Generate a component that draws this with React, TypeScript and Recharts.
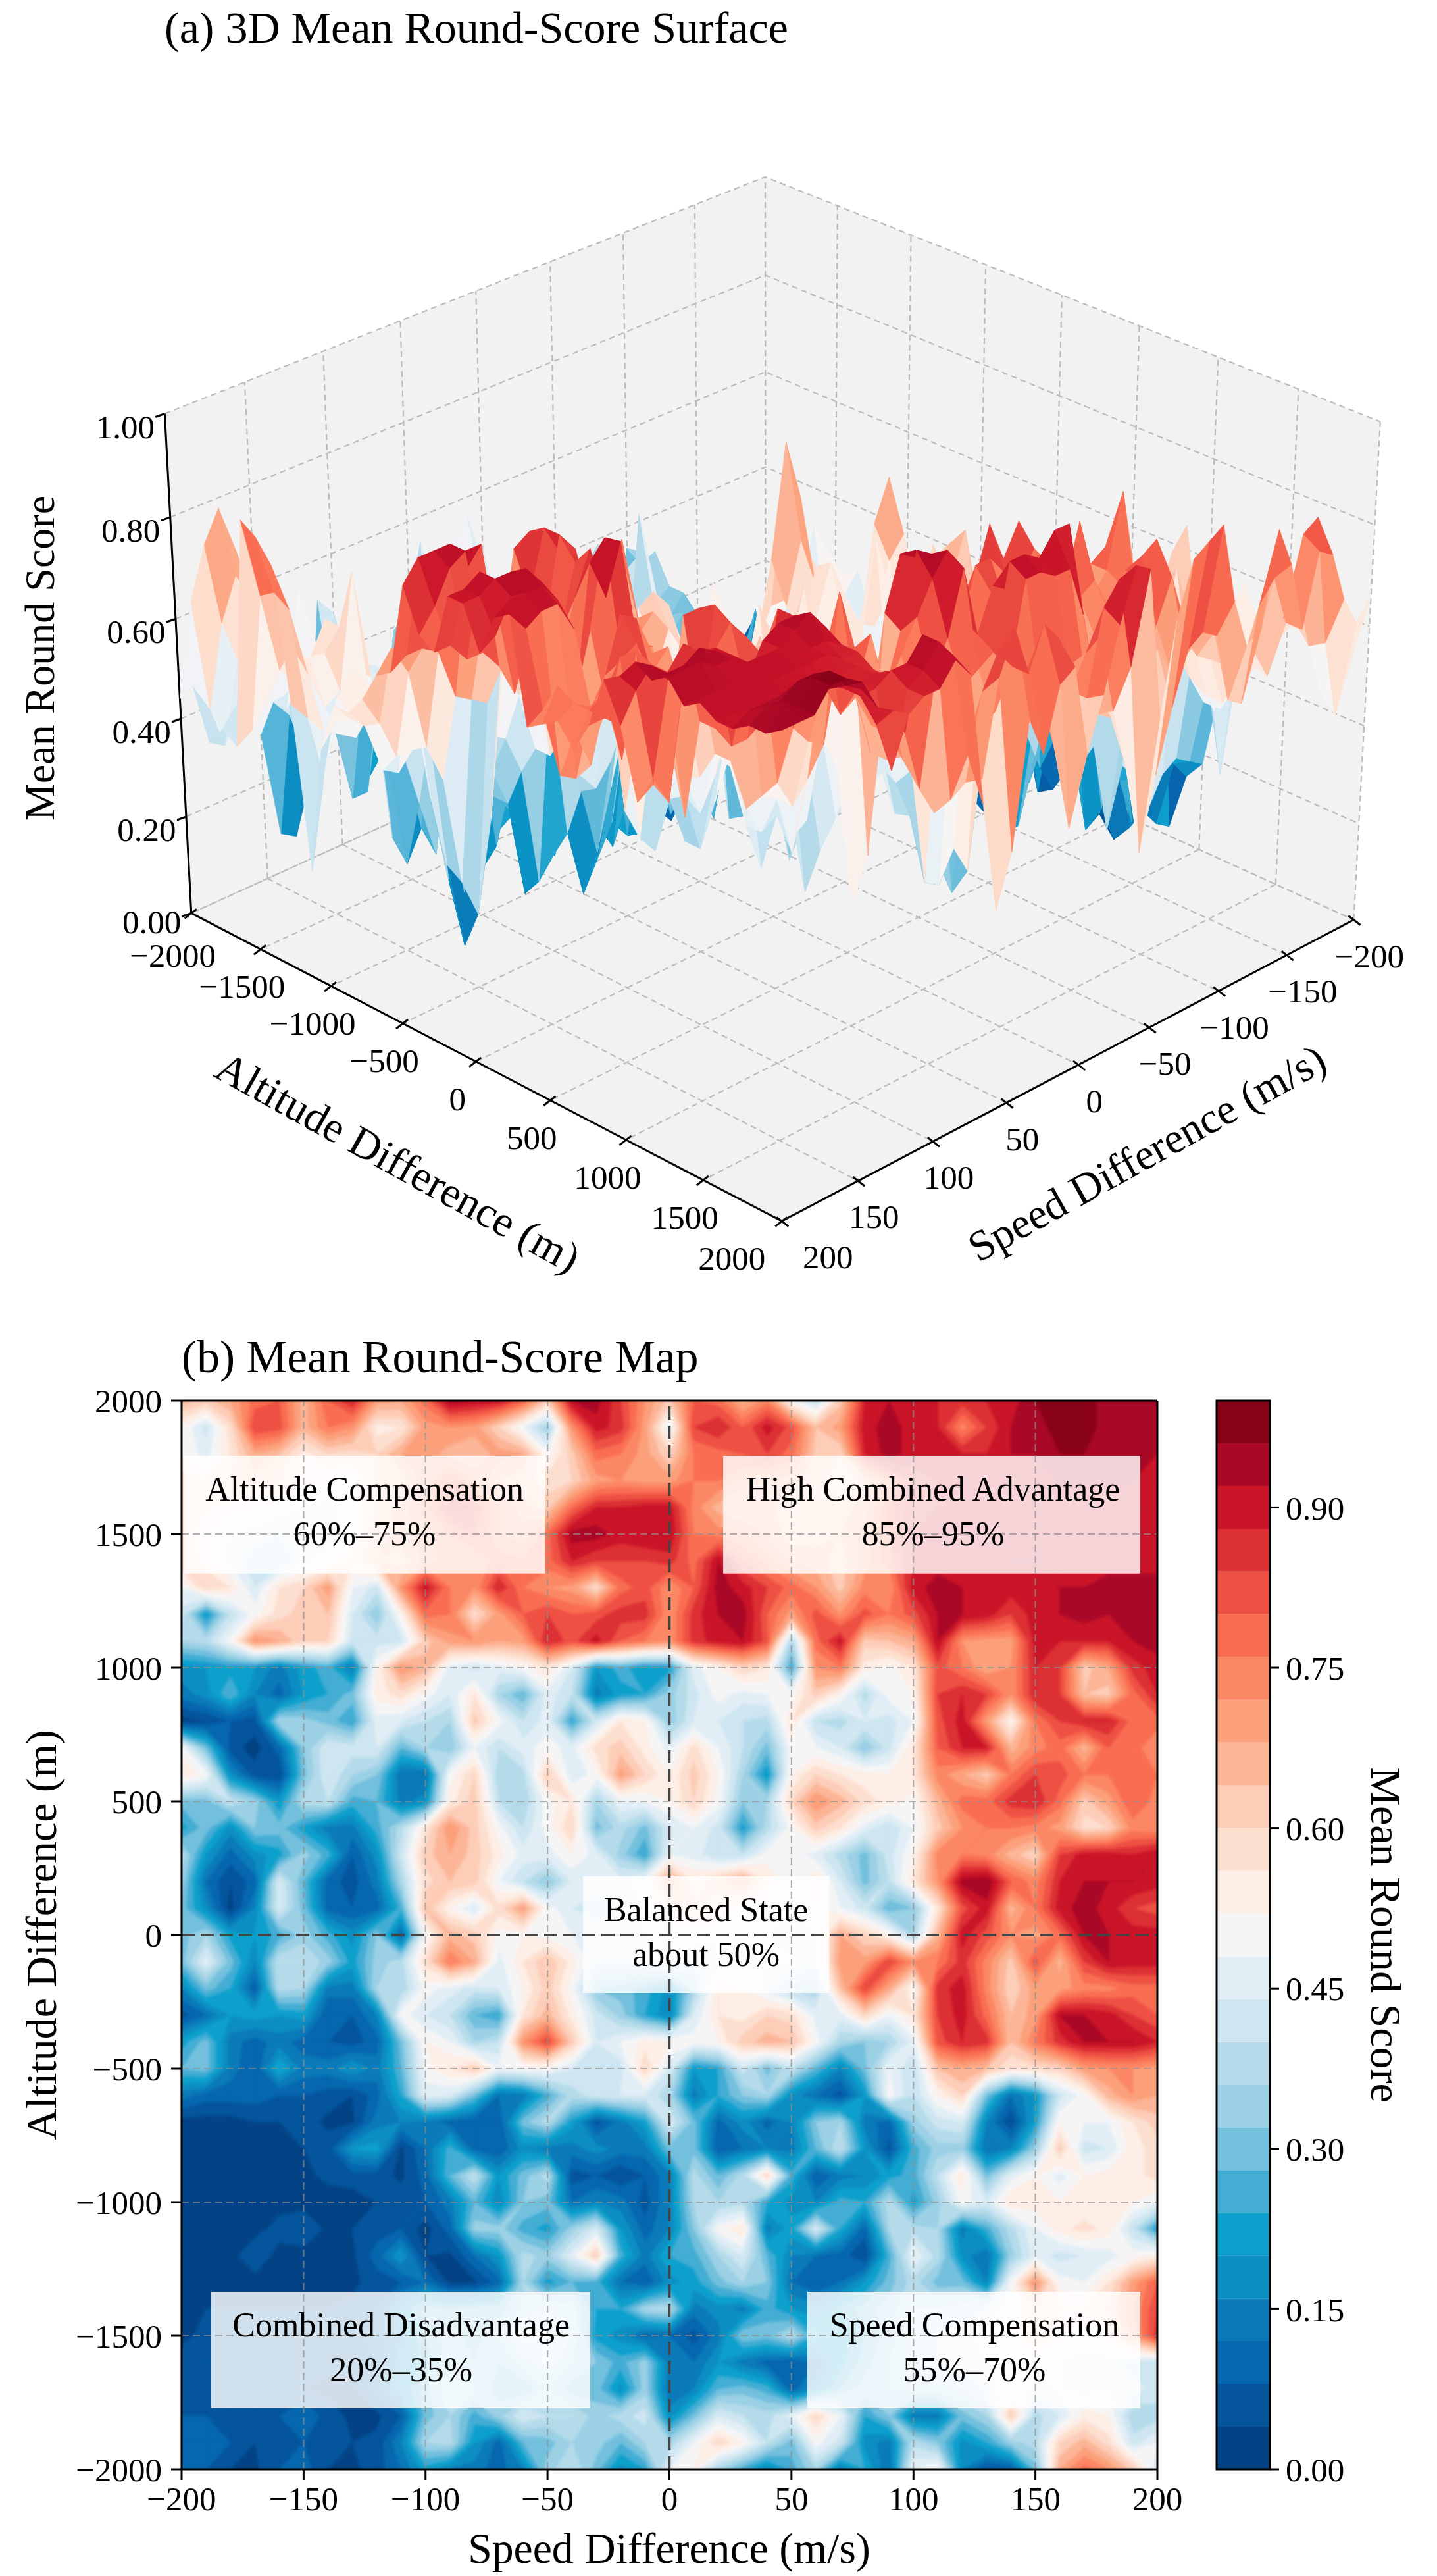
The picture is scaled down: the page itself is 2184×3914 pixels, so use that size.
import React from 'react';
import {
  ScatterChart, Scatter, BarChart, Bar, XAxis, YAxis, ReferenceLine, ReferenceArea,
} from 'recharts';

const PAGE_W = 2184;
const PAGE_H = 3914;
const SERIF = '"Liberation Serif", "Times New Roman", serif';

// axis ticks
const speedTicks = [-200, -150, -100, -50, 0, 50, 100, 150, 200];
const altitudeTicks = [-2000, -1500, -1000, -500, 0, 500, 1000, 1500, 2000];
const surfaceScoreTicks = [0, 0.2, 0.4, 0.6, 0.8, 1];
const colorbarTicks = [0, 0.15, 0.3, 0.45, 0.6, 0.75, 0.9];

// sampling of the score table
const speedGrid = [-200, -190, -180, -170, -160, -150, -140, -130, -120, -110, -100, -90, -80, -70, -60, -50, -40, -30, -20, -10, 0, 10, 20, 30, 40, 50, 60, 70, 80, 90, 100, 110, 120, 130, 140, 150, 160, 170, 180, 190, 200];
const altitudeGrid = [2000, 1900, 1800, 1700, 1600, 1500, 1400, 1300, 1200, 1100, 1000, 900, 800, 700, 600, 500, 400, 300, 200, 100, 0, -100, -200, -300, -400, -500, -600, -700, -800, -900, -1000, -1100, -1200, -1300, -1400, -1500, -1600, -1700, -1800, -1900, -2000];

// mean round score in percent, top row is altitude +2000, left column is speed -200
const scoreRows = [
  [66,62,68,78,80,66,80,88,70,68,78,94,92,90,80,62,92,94,84,72,62,80,78,66,74,50,40,62,88,92,88,88,86,88,90,96,98,98,94,94,94],
  [52,42,58,84,82,66,76,72,54,56,70,72,70,60,48,34,72,90,86,70,46,84,88,80,90,82,64,70,90,94,90,88,74,84,92,94,98,98,94,96,92],
  [52,46,56,68,64,54,60,58,60,68,70,66,64,70,68,50,62,78,76,70,60,76,78,80,84,78,62,60,88,94,90,90,88,88,92,92,96,96,94,94,92],
  [58,56,60,62,60,55,52,50,60,62,70,80,72,64,62,58,60,70,72,70,70,76,76,70,68,66,62,56,62,74,86,88,88,88,90,90,92,92,92,92,90],
  [60,56,54,52,50,48,46,50,60,66,74,86,84,72,66,62,78,88,88,90,90,74,66,64,66,60,60,62,66,80,86,88,88,88,90,90,90,90,90,90,90],
  [58,52,48,46,44,44,46,52,62,66,70,76,80,72,70,78,94,94,90,92,92,76,74,72,68,62,62,64,70,80,88,88,90,90,90,90,92,92,92,92,92],
  [60,54,46,42,40,46,50,56,64,62,70,74,72,78,76,78,88,84,84,84,86,78,92,80,74,68,66,62,70,78,88,90,90,90,92,92,90,90,90,90,90],
  [48,60,56,44,56,60,70,48,42,72,90,76,72,88,76,72,70,58,78,82,72,80,94,90,84,78,72,62,74,72,90,94,92,90,90,90,92,92,94,94,94],
  [42,20,40,50,58,62,64,44,32,52,78,76,58,70,80,84,80,82,86,86,72,86,92,94,80,70,82,72,82,76,82,92,92,90,84,90,92,94,92,92,92],
  [36,38,50,72,68,60,60,42,42,42,62,70,72,68,70,88,82,90,80,76,72,86,90,92,82,36,78,90,62,64,68,92,72,70,70,90,88,88,88,92,94],
  [18,20,22,20,14,22,26,14,52,72,66,46,42,46,50,56,44,20,26,20,22,46,52,60,56,24,72,76,54,50,56,82,76,68,72,88,84,62,68,86,90],
  [14,18,28,16,10,20,24,30,54,58,50,44,56,36,28,46,40,14,22,24,34,42,50,46,48,50,62,52,38,50,52,84,88,84,72,88,84,64,62,78,88],
  [2,4,8,6,36,34,30,24,46,44,40,36,62,50,40,46,24,42,56,52,33,44,44,40,38,56,40,38,44,42,48,82,90,70,52,76,84,88,88,78,78],
  [50,30,6,2,10,32,44,42,44,28,36,32,48,40,46,50,46,58,62,54,46,58,48,40,30,50,48,44,32,42,56,80,88,88,66,74,78,66,80,78,72],
  [56,50,18,6,4,30,44,36,32,12,12,50,60,36,38,62,44,50,70,60,52,62,52,36,20,52,60,56,54,52,56,74,68,62,76,84,82,76,76,78,76],
  [30,30,40,34,20,38,40,26,28,14,18,54,62,40,36,50,56,36,48,48,52,60,50,32,36,60,72,66,58,54,50,66,78,78,86,88,78,62,70,80,74],
  [22,30,18,32,30,22,14,14,26,38,56,72,62,50,40,50,60,30,38,30,44,48,42,22,38,50,62,56,46,40,48,62,72,76,76,74,70,58,60,74,72],
  [38,20,10,18,22,34,26,8,18,42,62,68,62,54,46,46,52,46,34,24,48,46,40,40,50,50,46,38,30,42,52,74,76,74,66,60,84,90,90,88,92],
  [34,12,4,10,44,28,10,6,14,36,58,64,62,48,40,32,44,46,46,50,70,56,62,70,56,48,56,44,30,40,56,72,94,96,80,74,88,92,92,92,90],
  [30,18,2,16,44,30,10,8,10,26,64,52,44,58,70,50,44,42,44,48,56,60,56,52,50,48,52,48,42,28,32,56,82,90,66,76,90,94,90,84,82],
  [30,36,22,20,26,34,26,18,32,10,50,66,62,50,52,50,48,46,46,48,50,50,50,48,48,46,48,68,60,52,36,66,90,82,72,70,78,92,92,90,90],
  [30,46,30,16,40,40,34,22,34,38,58,76,68,46,56,64,54,44,44,46,50,44,44,46,48,48,46,70,70,84,72,76,86,74,62,82,66,84,92,90,90],
  [16,30,24,8,38,36,14,14,36,36,50,46,42,44,52,62,50,32,30,26,18,36,56,52,46,38,36,64,84,68,50,86,90,74,60,70,70,74,74,78,78],
  [6,12,20,22,20,22,8,8,16,50,44,40,28,24,56,66,54,42,34,24,16,44,56,54,60,58,46,46,60,48,56,84,90,78,64,70,92,92,90,84,80],
  [22,30,14,10,14,10,8,6,10,30,52,48,36,40,72,84,62,44,48,54,52,50,52,62,66,64,50,36,32,36,46,82,88,86,64,76,86,92,92,92,88],
  [28,30,14,8,24,14,14,20,14,28,50,56,62,48,50,50,44,42,42,60,44,20,24,42,30,40,28,16,30,48,40,64,68,64,56,58,60,70,72,72,70],
  [14,10,10,10,8,8,6,4,10,24,46,44,30,12,14,26,38,42,44,44,36,14,24,32,36,18,12,6,20,50,40,52,60,30,12,20,42,50,66,72,68],
  [2,2,2,4,4,6,3,3,14,16,14,10,8,8,30,38,22,6,14,22,44,30,10,18,10,16,32,36,14,10,34,42,44,16,4,22,52,48,48,56,62],
  [2,2,2,2,2,4,6,20,22,3,12,26,10,8,18,14,14,18,14,14,30,30,8,12,16,14,28,40,20,6,26,34,34,12,16,34,62,42,44,54,58],
  [0,2,2,0,2,3,5,6,6,3,10,28,40,20,30,38,6,8,4,8,15,38,28,38,60,26,8,14,16,22,26,40,56,30,46,52,46,52,54,54,58],
  [2,2,2,2,2,2,2,2,4,6,8,14,28,16,32,30,12,16,14,6,16,36,36,38,24,18,16,26,24,38,22,34,50,44,56,54,52,52,52,52,48],
  [2,2,2,2,6,8,3,4,6,8,2,10,34,34,26,22,34,44,20,10,16,32,50,56,14,22,44,24,10,36,38,36,14,26,38,48,54,58,54,40,22],
  [0,0,2,8,2,2,3,3,10,20,4,3,12,20,38,34,46,62,26,14,24,26,36,44,28,16,12,10,4,26,48,38,18,12,34,46,42,44,46,50,54],
  [2,2,2,2,2,2,3,3,6,8,12,3,3,10,36,22,28,26,12,8,18,22,30,36,32,12,8,12,20,30,38,30,30,16,50,72,50,48,56,70,80],
  [2,4,4,4,4,4,4,5,8,20,30,28,30,30,36,40,38,24,24,36,38,14,18,14,26,20,18,24,30,34,40,40,42,44,50,60,56,56,60,72,84],
  [3,5,5,6,6,6,6,6,10,16,28,34,30,36,46,44,40,22,18,10,12,6,14,32,30,38,24,20,28,34,40,44,46,50,52,60,54,50,54,70,86],
  [6,8,8,8,6,6,5,5,8,18,26,34,32,32,38,42,36,32,26,34,14,12,20,14,10,8,12,22,30,36,40,44,46,48,50,50,48,46,46,42,40],
  [7,7,7,6,5,4,3,3,10,20,30,40,36,30,28,36,30,30,18,34,12,16,28,30,26,10,18,28,34,36,38,38,40,44,52,46,48,46,48,46,42],
  [8,8,6,6,8,12,6,3,3,8,30,36,26,34,44,40,40,34,38,42,18,30,44,40,38,46,60,48,24,32,14,14,30,36,62,38,44,54,52,36,38],
  [8,12,8,4,5,8,4,4,5,16,36,38,20,10,28,30,36,34,28,36,36,48,60,52,40,30,50,42,18,14,38,32,18,24,34,38,60,66,58,42,48],
  [8,8,4,3,8,10,4,3,6,12,22,16,14,10,16,34,40,30,18,24,48,52,36,26,16,26,36,14,24,12,48,52,16,6,8,30,68,78,72,62,44],
];

// 25 colour levels of the map, 0.04 each
const levelColors = [
  '#034385', '#04559c', '#0667ae', '#0a7ab8', '#0c8ec2', '#0da0cc', '#43add4', '#73c0dd', '#9bd0e5',
  '#b5dbea', '#cee6f1', '#e2eef5', '#f6f5f6', '#fdeee6', '#fddfcf', '#fdcdb8', '#fcb597', '#fca07c',
  '#fc8765', '#f96e52', '#ee5144', '#dc3034', '#ca1428', '#a90826', '#8a0218',
];

const regionNames = ['Altitude Compensation', 'High Combined Advantage', 'Balanced State', 'Combined Disadvantage', 'Speed Compensation'];
const regionRanges = ['60%–75%', '85%–95%', 'about 50%', '20%–35%', '55%–70%'];
const regionCenterSpeed = [-125, 108, 15, -110, 125];
const regionCenterAltitude = [1573, 1573, 0, -1553, -1553];
const regionSpeedBounds = [[-199, -51], [22, 193], [-35.5, 65.5], [-188, -32.5], [56.5, 193]];
const regionAltitudeBounds = [[1353, 1793], [1353, 1793], [-217, 219], [-1771, -1335], [-1771, -1335]];

// map plot box on the page
const MAP_LEFT = 276;
const MAP_RIGHT = 1759;
const MAP_TOP = 2128;
const MAP_BOTTOM = 3752;
const BAR_LEFT = 1849;
const BAR_RIGHT = 1930;

const minusSign = (v: number) => String(v).replace('-', '\u2212');

// ---- contour bands ----
type V = [number, number, number];

function clipLevel(poly: V[], level: number, keepAbove: boolean): V[] {
  const out: V[] = [];
  for (let i = 0; i < poly.length; i++) {
    const a = poly[i];
    const b = poly[(i + 1) % poly.length];
    const aIn = keepAbove ? a[2] >= level : a[2] <= level;
    const bIn = keepAbove ? b[2] >= level : b[2] <= level;
    if (aIn) out.push(a);
    if (aIn !== bIn) {
      const t = (level - a[2]) / (b[2] - a[2]);
      out.push([a[0] + (b[0] - a[0]) * t, a[1] + (b[1] - a[1]) * t, level]);
    }
  }
  return out;
}

const polyPath = (pts: number[][]) =>
  pts.map((p, i) => `${i ? 'L' : 'M'}${p[0].toFixed(1)} ${p[1].toFixed(1)}`).join('') + 'Z';

const cellW = (MAP_RIGHT - MAP_LEFT) / (speedGrid.length - 1);
const cellH = (MAP_BOTTOM - MAP_TOP) / (altitudeGrid.length - 1);

const mapCells: any[] = [];
altitudeGrid.slice(0, -1).forEach((alt, j) => {
  speedGrid.slice(0, -1).forEach((speed, i) => {
    const tl = scoreRows[j][i] / 100;
    const tr = scoreRows[j][i + 1] / 100;
    const br = scoreRows[j + 1][i + 1] / 100;
    const bl = scoreRows[j + 1][i] / 100;
    const quad: V[] = [[0, 0, tl], [cellW, 0, tr], [cellW, cellH, br], [0, cellH, bl]];
    const lo = Math.min(Math.floor(Math.min(tl, tr, br, bl) / 0.04), 24);
    const hi = Math.min(Math.floor(Math.max(tl, tr, br, bl) / 0.04), 24);
    const bands: any[] = [];
    for (let k = lo; k <= hi; k++) {
      const part = clipLevel(clipLevel(quad, k * 0.04, true), k === 24 ? 2 : (k + 1) * 0.04, false);
      if (part.length > 2) bands.push({ d: polyPath(part), fill: levelColors[k] });
    }
    mapCells.push({ speed, alt, bands });
  });
});

function CellShape(props: any) {
  const { cx, cy, payload } = props;
  return (
    <g transform={`translate(${cx},${cy})`}>
      {payload.bands.map((b: any, i: number) => (
        <path key={i} d={b.d} fill={b.fill} stroke={b.fill} strokeWidth={0.9} />
      ))}
    </g>
  );
}

function RegionText(props: any) {
  const { cx, cy, payload } = props;
  return (
    <g fontFamily={SERIF} fontSize={52} fill="#000" textAnchor="middle">
      <text x={cx} y={cy - 21}>{payload.name}</text>
      <text x={cx} y={cy + 47}>{payload.range}</text>
    </g>
  );
}

const regionData = regionNames.map((name, i) => ({
  name,
  range: regionRanges[i],
  speed: regionCenterSpeed[i],
  alt: regionCenterAltitude[i],
}));

// ---- 3D view, same camera model as mplot3d ----
const ELEV = (30 * Math.PI) / 180;
const AZIM = (44.2 * Math.PI) / 180;
const DIST = 10;
const BOX_XY = 1.1905;
const BOX_Z = 0.8929;
const SCALE_X = 10729;
const SCALE_Y = 9796;
const ORIGIN_X = 1175;
const ORIGIN_Y = 1022;
const TILT = 0.0125;

const wDir = [Math.cos(ELEV) * Math.cos(AZIM), Math.cos(ELEV) * Math.sin(AZIM), Math.sin(ELEV)];
const uDir = [-Math.sin(AZIM), Math.cos(AZIM), 0];
const vDir = [
  wDir[1] * uDir[2] - wDir[2] * uDir[1],
  wDir[2] * uDir[0] - wDir[0] * uDir[2],
  wDir[0] * uDir[1] - wDir[1] * uDir[0],
];

function project(speed: number, alt: number, z: number) {
  const p = [(speed / 400) * BOX_XY, (alt / 4000) * BOX_XY, (z - 0.5) * BOX_Z];
  const along = p[0] * wDir[0] + p[1] * wDir[1] + p[2] * wDir[2];
  const depth = DIST - along;
  const sx = (p[0] * uDir[0] + p[1] * uDir[1]) / depth;
  const sy = (p[0] * vDir[0] + p[1] * vDir[1] + p[2] * vDir[2]) / depth;
  const x = sx * SCALE_X;
  return { x: ORIGIN_X + x, y: ORIGIN_Y - sy * SCALE_Y + x * TILT, depth };
}

function polyItem(points: { x: number; y: number }[], style: any) {
  const x = points[0].x;
  const y = points[0].y;
  const d =
    points.map((p, i) => `${i ? 'L' : 'M'}${(p.x - x).toFixed(1)} ${(p.y - y).toFixed(1)}`).join('') +
    (style.closed ? 'Z' : '');
  return { px: x, py: y, d, ...style };
}

function PolyShape(props: any) {
  const { cx, cy, payload: p } = props;
  return (
    <path
      transform={`translate(${cx},${cy})`}
      d={p.d}
      fill={p.fill || 'none'}
      stroke={p.stroke || 'none'}
      strokeWidth={p.sw || 0}
      strokeDasharray={p.dash}
    />
  );
}

function TextShape(props: any) {
  const { cx, cy, payload: p } = props;
  return (
    <text
      x={cx}
      y={cy}
      fontFamily={SERIF}
      fontSize={p.size}
      fill="#000"
      textAnchor={p.anchor || 'middle'}
      dominantBaseline={p.base || 'central'}
      transform={p.rotate ? `rotate(${p.rotate} ${cx} ${cy})` : undefined}
    >
      {p.text}
    </text>
  );
}

const PANE = { fill: '#f2f2f2', closed: true };
const paneData = [
  polyItem([project(200, -2000, 0), project(200, 2000, 0), project(-200, 2000, 0), project(-200, -2000, 0)], PANE),
  polyItem([project(200, -2000, 0), project(-200, -2000, 0), project(-200, -2000, 1), project(200, -2000, 1)], PANE),
  polyItem([project(-200, -2000, 0), project(-200, 2000, 0), project(-200, 2000, 1), project(-200, -2000, 1)], PANE),
];

const GRID = { stroke: '#bcbcbc', sw: 2.2, dash: '9 6' };
const gridData: any[] = [];
speedTicks.forEach(s => {
  gridData.push(polyItem([project(s, -2000, 0), project(s, 2000, 0)], GRID));
  gridData.push(polyItem([project(s, -2000, 0), project(s, -2000, 1)], GRID));
});
altitudeTicks.forEach(a => {
  gridData.push(polyItem([project(-200, a, 0), project(200, a, 0)], GRID));
  gridData.push(polyItem([project(-200, a, 0), project(-200, a, 1)], GRID));
});
surfaceScoreTicks.forEach(z => {
  gridData.push(polyItem([project(200, -2000, z), project(-200, -2000, z), project(-200, 2000, z)], GRID));
});

const hexRgb = (h: string) => [1, 3, 5].map(i => parseInt(h.slice(i, i + 2), 16));
function scoreColor(v: number) {
  const t = Math.max(0, Math.min(24, v * 25 - 0.5));
  const k = Math.min(23, Math.floor(t));
  const a = hexRgb(levelColors[k]);
  const b = hexRgb(levelColors[k + 1]);
  const f = t - k;
  return `rgb(${a.map((c, i) => Math.round(c + (b[i] - c) * f)).join(',')})`;
}

// facets of the surface, far ones first
const surfaceData: any[] = [];
altitudeGrid.slice(0, -1).forEach((alt, j) => {
  speedGrid.slice(0, -1).forEach((speed, i) => {
    const a1 = altitudeGrid[j + 1];
    const s1 = speedGrid[i + 1];
    const zs = [scoreRows[j][i], scoreRows[j][i + 1], scoreRows[j + 1][i + 1], scoreRows[j + 1][i]].map(v => v / 100);
    const corners = [project(speed, alt, zs[0]), project(s1, alt, zs[1]), project(s1, a1, zs[2]), project(speed, a1, zs[3])];
    const mean = (zs[0] + zs[1] + zs[2] + zs[3]) / 4;
    const fill = scoreColor(mean);
    surfaceData.push({
      ...polyItem(corners, { fill, stroke: fill, sw: 0.8, closed: true }),
      depth: corners.reduce((acc, c) => acc + c.depth, 0) / 4,
    });
  });
});
surfaceData.sort((a, b) => b.depth - a.depth);

const AXIS = { stroke: '#000', sw: 3 };
const axisData: any[] = [
  polyItem([project(200, -2000, 0), project(200, -2000, 1)], AXIS),
  polyItem([project(200, -2000, 0), project(200, 2000, 0), project(-200, 2000, 0)], AXIS),
];
const offsetPoint = (p: { x: number; y: number }, dx: number, dy: number) => ({ x: p.x + dx, y: p.y + dy });
altitudeTicks.forEach(a => {
  const p = project(200, a, 0);
  axisData.push(polyItem([offsetPoint(p, -10, 8), offsetPoint(p, 8, -6)], AXIS));
});
speedTicks.forEach(s => {
  const p = project(s, 2000, 0);
  axisData.push(polyItem([offsetPoint(p, 10, 8), offsetPoint(p, -8, -6)], AXIS));
});
surfaceScoreTicks.forEach(z => {
  const p = project(200, -2000, z);
  axisData.push(polyItem([offsetPoint(p, -14, 5), p], AXIS));
});

const pageText: any[] = [
  { px: 250, py: 65, text: '(a) 3D Mean Round-Score Surface', size: 68, anchor: 'start', base: 'alphabetic' },
  { px: 276, py: 2085, text: '(b) Mean Round-Score Map', size: 69.5, anchor: 'start', base: 'alphabetic' },
  { px: 60, py: 1000, text: 'Mean Round Score', size: 64, rotate: -90 },
  { px: 605, py: 1766, text: 'Altitude Difference (m)', size: 65.5, rotate: 29 },
  { px: 1743, py: 1752, text: 'Speed Difference (m/s)', size: 65.5, rotate: -29 },
  { px: 62, py: 2940, text: 'Altitude Difference (m)', size: 65.8, rotate: -90 },
  { px: 1017, py: 3871, text: 'Speed Difference (m/s)', size: 65.7 },
  { px: 2106, py: 2940, text: 'Mean Round Score', size: 66, rotate: 90 },
];
surfaceScoreTicks.forEach(z => {
  const p = project(200, -2000, z);
  pageText.push({ px: p.x - 60, py: p.y + (z === 0 ? 14 : 20), text: z.toFixed(2), size: 51 });
});
altitudeTicks.forEach(a => {
  const p = project(200, a, 0);
  const low = a === -2000 ? 8 : 0;
  pageText.push({ px: p.x + (a === 2000 ? -76 : -28), py: p.y + 57 + low, text: minusSign(a), size: 51 });
});
speedTicks.forEach(s => {
  const p = project(s, 2000, 0);
  pageText.push({ px: p.x + (s === 200 ? 70 : 24), py: p.y + 55, text: minusSign(s), size: 51 });
});

const barFrame = [
  polyItem(
    [{ x: BAR_LEFT, y: MAP_TOP }, { x: BAR_RIGHT, y: MAP_TOP }, { x: BAR_RIGHT, y: MAP_BOTTOM }, { x: BAR_LEFT, y: MAP_BOTTOM }],
    { stroke: '#000', sw: 3, closed: true },
  ),
];

const barRow: any = { name: 'score' };
levelColors.forEach((_, k) => {
  barRow[`level${k}`] = 0.04;
});

const tickStyle = { fontFamily: SERIF, fontSize: 51, fill: '#000' };
const blackLine = { stroke: '#000', strokeWidth: 3 };
const layer: React.CSSProperties = { position: 'absolute', left: 0, top: 0, width: PAGE_W, height: PAGE_H };
const plotMargin = {
  top: MAP_TOP,
  right: PAGE_W - MAP_RIGHT,
  bottom: PAGE_H - MAP_BOTTOM,
  left: MAP_LEFT,
};

// the filled bands only, used twice: sharp below, softened on top
function ContourLayer() {
  return (
    <ScatterChart width={PAGE_W} height={PAGE_H} margin={plotMargin}>
      <XAxis type="number" dataKey="speed" domain={[-200, 200]} hide />
      <YAxis type="number" dataKey="alt" domain={[-2000, 2000]} hide />
      <Scatter data={mapCells} shape={CellShape} isAnimationActive={false} />
    </ScatterChart>
  );
}

export default function App() {
  return (
    <div style={{ ...layer, background: '#fff' }}>
      {/* (b) contour map */}
      <div
        style={{
          ...layer,
          clipPath: `inset(${MAP_TOP}px ${PAGE_W - MAP_RIGHT}px ${PAGE_H - MAP_BOTTOM}px ${MAP_LEFT}px)`,
        }}
      >
        <div style={layer}>
          <ContourLayer />
        </div>
        <div style={{ ...layer, filter: 'blur(2px)' }}>
          <ContourLayer />
        </div>
      </div>

      {/* map axes, grid and region boxes */}
      <div style={layer}>
        <ScatterChart
          width={PAGE_W}
          height={PAGE_H}
          margin={{ top: MAP_TOP, right: PAGE_W - MAP_RIGHT, bottom: 0, left: 0 }}
        >
          <XAxis
            type="number"
            dataKey="speed"
            domain={[-200, 200]}
            ticks={speedTicks}
            interval={0}
            height={PAGE_H - MAP_BOTTOM}
            tick={tickStyle}
            tickSize={16}
            tickMargin={10}
            tickFormatter={minusSign}
            axisLine={blackLine}
            tickLine={blackLine}
          />
          <YAxis
            type="number"
            dataKey="alt"
            domain={[-2000, 2000]}
            ticks={altitudeTicks}
            interval={0}
            width={MAP_LEFT}
            tick={tickStyle}
            tickSize={16}
            tickMargin={14}
            tickFormatter={minusSign}
            axisLine={blackLine}
            tickLine={blackLine}
          />
          {speedTicks.filter(v => v !== 0 && Math.abs(v) !== 200).map(v => (
            <ReferenceLine key={`gx${v}`} x={v} stroke="#8f8f8f" strokeOpacity={0.7} strokeWidth={2.2} strokeDasharray="11 6" />
          ))}
          {altitudeTicks.filter(v => v !== 0 && Math.abs(v) !== 2000).map(v => (
            <ReferenceLine key={`gy${v}`} y={v} stroke="#8f8f8f" strokeOpacity={0.7} strokeWidth={2.2} strokeDasharray="11 6" />
          ))}
          <ReferenceLine x={0} stroke="#444" strokeWidth={3.5} strokeDasharray="20 9" />
          <ReferenceLine y={0} stroke="#444" strokeWidth={3.5} strokeDasharray="20 9" />
          <ReferenceLine x={200} stroke="#000" strokeWidth={3} />
          <ReferenceLine y={2000} stroke="#000" strokeWidth={3} />
          {regionNames.map((name, i) => (
            <ReferenceArea
              key={name}
              x1={regionSpeedBounds[i][0]}
              x2={regionSpeedBounds[i][1]}
              y1={regionAltitudeBounds[i][0]}
              y2={regionAltitudeBounds[i][1]}
              fill="#fff"
              fillOpacity={0.82}
              stroke="none"
            />
          ))}
          <Scatter data={regionData} shape={RegionText} isAnimationActive={false} />
        </ScatterChart>
      </div>

      {/* colour bar */}
      <div style={layer}>
        <BarChart
          width={PAGE_W}
          height={PAGE_H}
          data={[barRow]}
          barCategoryGap={0}
          margin={{ top: MAP_TOP, right: 0, bottom: PAGE_H - MAP_BOTTOM, left: BAR_LEFT }}
        >
          <XAxis dataKey="name" hide />
          <YAxis
            orientation="right"
            type="number"
            domain={[0, 1]}
            ticks={colorbarTicks}
            interval={0}
            width={PAGE_W - BAR_RIGHT}
            tick={tickStyle}
            tickSize={14}
            tickMargin={10}
            tickFormatter={(v: number) => v.toFixed(2)}
            axisLine={false}
            tickLine={blackLine}
          />
          {levelColors.map((c, k) => (
            <Bar key={k} dataKey={`level${k}`} stackId="bar" fill={c} isAnimationActive={false} />
          ))}
        </BarChart>
      </div>

      {/* (a) 3D surface and the page text, axes are page pixels */}
      <div style={layer}>
        <ScatterChart width={PAGE_W} height={PAGE_H} margin={{ top: 0, right: 0, bottom: 0, left: 0 }}>
          <XAxis type="number" dataKey="px" domain={[0, PAGE_W]} hide />
          <YAxis type="number" dataKey="py" domain={[0, PAGE_H]} reversed hide />
          <Scatter data={paneData} shape={PolyShape} isAnimationActive={false} />
          <Scatter data={gridData} shape={PolyShape} isAnimationActive={false} />
          <Scatter data={axisData} shape={PolyShape} isAnimationActive={false} />
          <Scatter data={surfaceData} shape={PolyShape} isAnimationActive={false} />
          <Scatter data={barFrame} shape={PolyShape} isAnimationActive={false} />
          <Scatter data={pageText} shape={TextShape} isAnimationActive={false} />
        </ScatterChart>
      </div>
    </div>
  );
}
